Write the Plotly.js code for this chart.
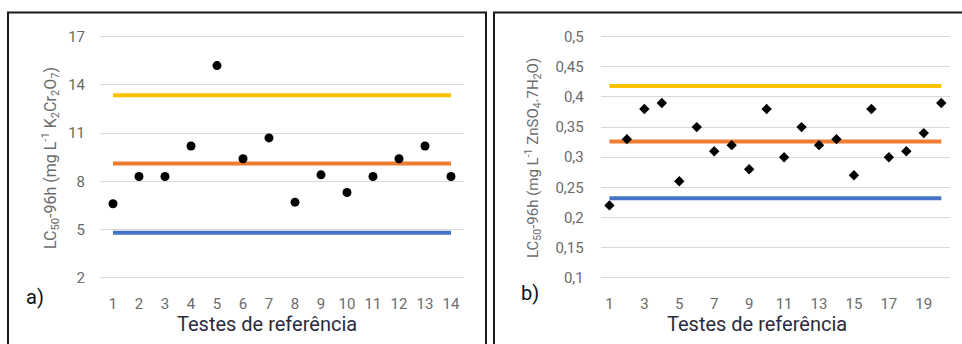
<!DOCTYPE html>
<html>
<head>
<meta charset="utf-8">
<script src="https://cdn.plot.ly/plotly-3.0.1.min.js"></script>
<style>html,body{margin:0;padding:0;background:#fff;}#chart{width:962px;height:344px;}</style>
</head>
<body>
<div id="chart"></div>
<script>
// Panel a) K2Cr2O7
const testsA = [1,2,3,4,5,6,7,8,9,10,11,12,13,14];
const lc50A = [6.6,8.3,8.3,10.2,15.2,9.4,10.7,6.7,8.4,7.3,8.3,9.4,10.2,8.3];
const upperA = 13.35;
const meanA = 9.1;
const lowerA = 4.8;
const yTicksA = [2,5,8,11,14,17];

// Panel b) ZnSO4.7H2O
const testsB = [1,2,3,4,5,6,7,8,9,10,11,12,13,14,15,16,17,18,19,20];
const lc50B = [0.22,0.33,0.38,0.39,0.26,0.35,0.31,0.32,0.28,0.38,0.30,0.35,0.32,0.33,0.27,0.38,0.30,0.31,0.34,0.39];
const upperB = 0.418;
const meanB = 0.326;
const lowerB = 0.232;
const yTickValsB = [0.1,0.15,0.2,0.25,0.3,0.35,0.4,0.45,0.5];
const yTickTextB = ['0,1','0,15','0,2','0,25','0,3','0,35','0,4','0,45','0,5'];
const xTickValsB = [1,3,5,7,9,11,13,15,17,19];

const xTitle = 'Testes de referência';
const yTitleA = 'LC<sub>50</sub>-96h (mg L<sup>-1</sup> K<sub>2</sub>Cr<sub>2</sub>O<sub>7</sub>)';
const yTitleB = 'LC<sub>50</sub>-96h (mg L<sup>-1</sup> ZnSO<sub>4</sub>.7H<sub>2</sub>O)';

const cYellow = '#FFC000', cOrange = '#ED7D31', cBlue = '#4472C4';
const tickFont = {family: 'Roboto, sans-serif', size: 15, color: '#6b6b6b'};

function hline(xs, v, color, xa, ya) {
  return {x: [xs[0], xs[xs.length-1]], y: [v, v], mode: 'lines', xaxis: xa, yaxis: ya,
          line: {color: color, width: 4}, hoverinfo: 'skip', showlegend: false};
}

const data = [
  hline(testsA, lowerA, cBlue, 'x', 'y'),
  hline(testsA, meanA, cOrange, 'x', 'y'),
  hline(testsA, upperA, cYellow, 'x', 'y'),
  {x: testsA, y: lc50A, mode: 'markers', xaxis: 'x', yaxis: 'y', showlegend: false,
   marker: {symbol: 'circle', size: 9, color: '#000'}},
  hline(testsB, lowerB, cBlue, 'x2', 'y2'),
  hline(testsB, meanB, cOrange, 'x2', 'y2'),
  hline(testsB, upperB, cYellow, 'x2', 'y2'),
  {x: testsB, y: lc50B, mode: 'markers', xaxis: 'x2', yaxis: 'y2', showlegend: false,
   marker: {symbol: 'diamond', size: 8, color: '#000'}}
];

const layout = {
  width: 962, height: 344,
  margin: {l: 0, r: 0, t: 0, b: 0},
  paper_bgcolor: '#fff', plot_bgcolor: '#fff',
  showlegend: false,
  xaxis: {domain: [100/962, 464/962], range: [0.5, 14.5], tickvals: testsA,
          showgrid: false, zeroline: false, showline: false, ticks: '',
          ticklabelstandoff: 14, tickfont: tickFont, fixedrange: true},
  yaxis: {domain: [0.1881, 0.8980], range: [1.9, 17.1], tickvals: yTicksA,
          showgrid: true, gridcolor: '#D9D9D9', gridwidth: 1, zeroline: false,
          showline: false, ticks: '', ticklabelstandoff: 14, tickfont: tickFont, fixedrange: true},
  xaxis2: {domain: [600.7/962, 950/962], range: [0.5, 20.5], tickvals: xTickValsB,
           showgrid: false, zeroline: false, showline: false, ticks: '',
           ticklabelstandoff: 14, tickfont: tickFont, anchor: 'y2', fixedrange: true},
  yaxis2: {domain: [0.1892, 0.8968], range: [0.098, 0.502], tickvals: yTickValsB, ticktext: yTickTextB,
           showgrid: true, gridcolor: '#D9D9D9', gridwidth: 1, zeroline: false,
           showline: false, ticks: '', ticklabelstandoff: 16, tickfont: tickFont, anchor: 'x2', fixedrange: true},
  shapes: [
    {type: 'rect', xref: 'paper', yref: 'paper', x0: 8/962, x1: 486/962, y0: -0.05, y1: (344-12.5)/344,
     line: {color: '#1a1a1a', width: 2}},
    {type: 'rect', xref: 'paper', yref: 'paper', x0: 494/962, x1: 1.05, y0: -0.05, y1: (344-12.5)/344,
     line: {color: '#1a1a1a', width: 2}}
  ],
  annotations: [
    {text: xTitle, xref: 'paper', yref: 'paper', x: 267/962, y: (344-324)/344, showarrow: false,
     xanchor: 'center', yanchor: 'middle', font: {family: 'Roboto, sans-serif', size: 20, color: '#2b2b3d'}},
    {text: xTitle, xref: 'paper', yref: 'paper', x: 757/962, y: (344-324)/344, showarrow: false,
     xanchor: 'center', yanchor: 'middle', font: {family: 'Roboto, sans-serif', size: 20, color: '#2b2b3d'}},
    {text: yTitleA, xref: 'paper', yref: 'paper', x: 50/962, y: (344-158)/344, showarrow: false, textangle: -90,
     xanchor: 'center', yanchor: 'middle', font: {family: 'Roboto, sans-serif', size: 16, color: '#6b6b6b'}},
    {text: yTitleB, xref: 'paper', yref: 'paper', x: 533/962, y: (344-158)/344, showarrow: false, textangle: -90,
     xanchor: 'center', yanchor: 'middle', font: {family: 'Roboto, sans-serif', size: 15, color: '#6b6b6b'}},
    {text: 'a)', xref: 'paper', yref: 'paper', x: 35/962, y: (344-297)/344, showarrow: false,
     xanchor: 'center', yanchor: 'middle', font: {family: 'Roboto, sans-serif', size: 20, color: '#111'}},
    {text: 'b)', xref: 'paper', yref: 'paper', x: 530/962, y: (344-293)/344, showarrow: false,
     xanchor: 'center', yanchor: 'middle', font: {family: 'Roboto, sans-serif', size: 20, color: '#111'}}
  ]
};

Plotly.newPlot('chart', data, layout, {displayModeBar: false, staticPlot: true});
</script>
</body>
</html>
